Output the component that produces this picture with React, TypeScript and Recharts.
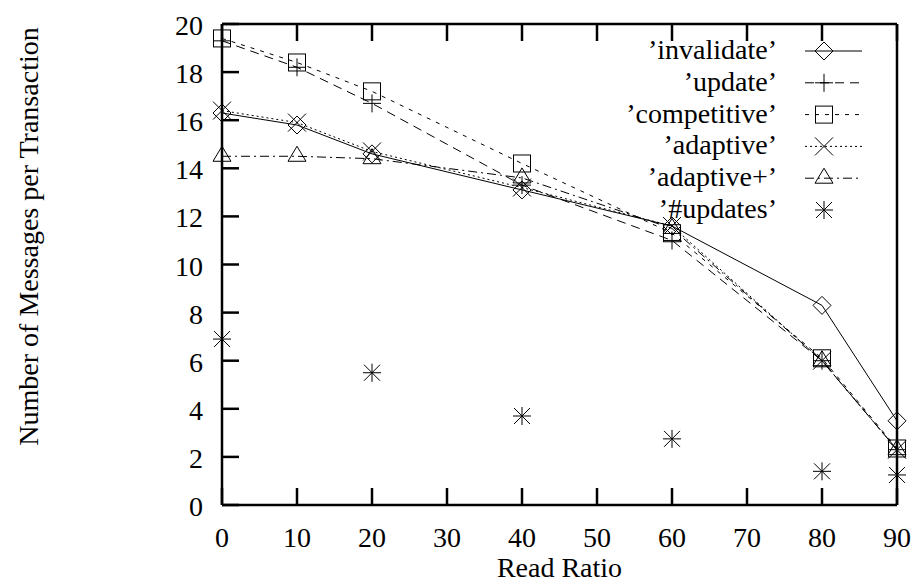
import React from "react"
import { Label, Legend, Line, LineChart, XAxis, YAxis } from "recharts"

const readRatio = [0, 10, 20, 40, 60, 80, 90]
const invalidate = [16.3, 15.8, 14.6, 13.1, 11.6, 8.3, 3.5]
const update = [19.3, 18.2, 16.7, 13.3, 11.0, 6.0, 2.3]
const competitive = [19.4, 18.4, 17.2, 14.2, 11.3, 6.1, 2.35]
const adaptive = [16.4, 15.9, 14.7, 13.2, 11.6, 6.0, 2.3]
const adaptivePlus = [14.5, 14.5, 14.4, 13.6, 11.5, 6.0, 2.3]
const numUpdates = [6.9, null, 5.5, 3.7, 2.75, 1.4, 1.25]

const xTicks = [0, 10, 20, 30, 40, 50, 60, 70, 80, 90]
const yTicks = [0, 2, 4, 6, 8, 10, 12, 14, 16, 18, 20]

const data = readRatio.map((x, i) => ({
  x,
  invalidate: invalidate[i],
  update: update[i],
  competitive: competitive[i],
  adaptive: adaptive[i],
  adaptivePlus: adaptivePlus[i],
  numUpdates: numUpdates[i],
}))

const FONT = "'Liberation Serif', 'Times New Roman', serif"
const INK = "#000"
const TICK_LEN = 17

type Shape = "diamond" | "plus" | "square" | "cross" | "triangle" | "star"

function Marker({ shape, cx, cy }: { shape: Shape; cx: number; cy: number }) {
  const p = { stroke: INK, strokeWidth: 1, fill: "none" }
  switch (shape) {
    case "diamond":
      return <polygon {...p} points={`${cx},${cy - 9} ${cx + 9},${cy} ${cx},${cy + 9} ${cx - 9},${cy}`} />
    case "plus":
      return (
        <g {...p}>
          <line x1={cx - 9} y1={cy} x2={cx + 9} y2={cy} />
          <line x1={cx} y1={cy - 9} x2={cx} y2={cy + 9} />
        </g>
      )
    case "square":
      return <rect {...p} x={cx - 8.5} y={cy - 8.5} width={17} height={17} />
    case "cross":
      return (
        <g {...p}>
          <line x1={cx - 9} y1={cy - 9} x2={cx + 9} y2={cy + 9} />
          <line x1={cx - 9} y1={cy + 9} x2={cx + 9} y2={cy - 9} />
        </g>
      )
    case "triangle":
      return <polygon {...p} points={`${cx},${cy - 10} ${cx + 9},${cy + 5} ${cx - 9},${cy + 5}`} />
    case "star":
      return (
        <g {...p}>
          <line x1={cx - 9} y1={cy} x2={cx + 9} y2={cy} />
          <line x1={cx} y1={cy - 9} x2={cx} y2={cy + 9} />
          <line x1={cx - 8} y1={cy - 8} x2={cx + 8} y2={cy + 8} />
          <line x1={cx - 8} y1={cy + 8} x2={cx + 8} y2={cy - 8} />
        </g>
      )
  }
  return null
}

const dotOf = (shape: Shape) => (props: any) => {
  const { cx, cy, index, value } = props
  if (value == null || cy == null || Number.isNaN(cy)) return <g key={`${shape}-${index}`} />
  return (
    <g key={`${shape}-${index}`}>
      <Marker shape={shape} cx={cx} cy={cy} />
    </g>
  )
}

const series: { key: string; name: string; shape: Shape; dash?: string; line: boolean }[] = [
  { key: "invalidate", name: "’invalidate’", shape: "diamond", line: true },
  { key: "update", name: "’update’", shape: "plus", dash: "9 6", line: true },
  { key: "competitive", name: "’competitive’", shape: "square", dash: "4 6", line: true },
  { key: "adaptive", name: "’adaptive’", shape: "cross", dash: "2 3", line: true },
  { key: "adaptivePlus", name: "’adaptive+’", shape: "triangle", dash: "9 4 2 4", line: true },
  { key: "numUpdates", name: "’#updates’", shape: "star", line: false },
]

function LegendBox() {
  return (
    <svg width={400} height={200} style={{ display: "block" }}>
      {series.map((s, i) => {
        const y = 17 + i * 31.8
        return (
          <g key={s.key}>
            <text x={297} y={y + 8} textAnchor="end" fontFamily={FONT} fontSize={28} fill={INK}>
              {s.name}
            </text>
            {s.line && (
              <line x1={325} y1={y} x2={382} y2={y} stroke={INK} strokeWidth={1} strokeDasharray={s.dash} />
            )}
            <Marker shape={s.shape} cx={344} cy={y} />
          </g>
        )
      })}
    </svg>
  )
}

// gnuplot-style inward ticks on all four sides; labels only bottom / left
function BottomTick(props: any) {
  const { x, y, payload } = props
  return (
    <g>
      <line x1={x} y1={y} x2={x} y2={y - TICK_LEN} stroke={INK} strokeWidth={2.5} />
      <text x={x} y={y + 42} textAnchor="middle" fontFamily={FONT} fontSize={28} fill={INK}>
        {payload.value}
      </text>
    </g>
  )
}

function TopTick(props: any) {
  const { x, y } = props
  return <line x1={x} y1={y} x2={x} y2={y + TICK_LEN} stroke={INK} strokeWidth={2.5} />
}

function LeftTick(props: any) {
  const { x, y, payload } = props
  return (
    <g>
      <line x1={x} y1={y} x2={x + TICK_LEN} y2={y} stroke={INK} strokeWidth={2.5} />
      <text x={x - 19} y={y + 11} textAnchor="end" fontFamily={FONT} fontSize={28} fill={INK}>
        {payload.value}
      </text>
    </g>
  )
}

function RightTick(props: any) {
  const { x, y } = props
  return <line x1={x} y1={y} x2={x - TICK_LEN} y2={y} stroke={INK} strokeWidth={2.5} />
}

function YTitle(props: any) {
  const { viewBox } = props
  const cy = viewBox.y + viewBox.height / 2 - 28
  return (
    <text
      x={28}
      y={cy}
      transform={`rotate(-90 28 ${cy})`}
      textAnchor="middle"
      dominantBaseline="central"
      fontFamily={FONT}
      fontSize={28}
      fill={INK}
    >
      Number of Messages per Transaction
    </text>
  )
}

function XTitle(props: any) {
  const { viewBox } = props
  return (
    <text
      x={viewBox.x + viewBox.width / 2}
      y={viewBox.y + 72}
      textAnchor="middle"
      fontFamily={FONT}
      fontSize={28}
      fill={INK}
    >
      Read Ratio
    </text>
  )
}

const axisLine = { stroke: INK, strokeWidth: 2.5 }

export default function App() {
  return (
    <div style={{ position: "absolute", left: 0, top: 0, width: 917, height: 583, background: "#fff" }}>
      <LineChart width={917} height={583} data={data} margin={{ top: 0, right: 0, bottom: 0, left: 0 }}>
        <XAxis
          dataKey="x"
          type="number"
          domain={[0, 90]}
          ticks={xTicks}
          height={78}
          tickSize={0}
          tickMargin={0}
          tick={<BottomTick />}
          axisLine={axisLine}
          tickLine={false}
          interval={0}
        >
          <Label content={<XTitle />} />
        </XAxis>
        <XAxis
          xAxisId="top"
          orientation="top"
          dataKey="x"
          type="number"
          domain={[0, 90]}
          ticks={xTicks}
          height={24}
          tickSize={0}
          tickMargin={0}
          tick={<TopTick />}
          axisLine={axisLine}
          tickLine={false}
          interval={0}
        />
        <YAxis
          type="number"
          domain={[0, 20]}
          ticks={yTicks}
          width={222}
          tickSize={0}
          tickMargin={0}
          tick={<LeftTick />}
          axisLine={axisLine}
          tickLine={false}
          interval={0}
        >
          <Label content={<YTitle />} />
        </YAxis>
        <YAxis
          yAxisId="right"
          orientation="right"
          type="number"
          domain={[0, 20]}
          ticks={yTicks}
          width={20}
          tickSize={0}
          tickMargin={0}
          tick={<RightTick />}
          axisLine={axisLine}
          tickLine={false}
          interval={0}
        />
        <Legend
          layout="horizontal"
          verticalAlign="middle"
          align="center"
          wrapperStyle={{ left: 480, top: 34, width: 400, height: 200 }}
          content={() => <LegendBox />}
        />
        {series.map((s) => (
          <Line
            key={s.key}
            dataKey={s.key}
            name={s.name}
            type="linear"
            stroke={s.line ? INK : "none"}
            strokeWidth={1}
            strokeDasharray={s.dash}
            dot={dotOf(s.shape)}
            activeDot={false}
            connectNulls={false}
            isAnimationActive={false}
          />
        ))}
      </LineChart>
    </div>
  )
}
